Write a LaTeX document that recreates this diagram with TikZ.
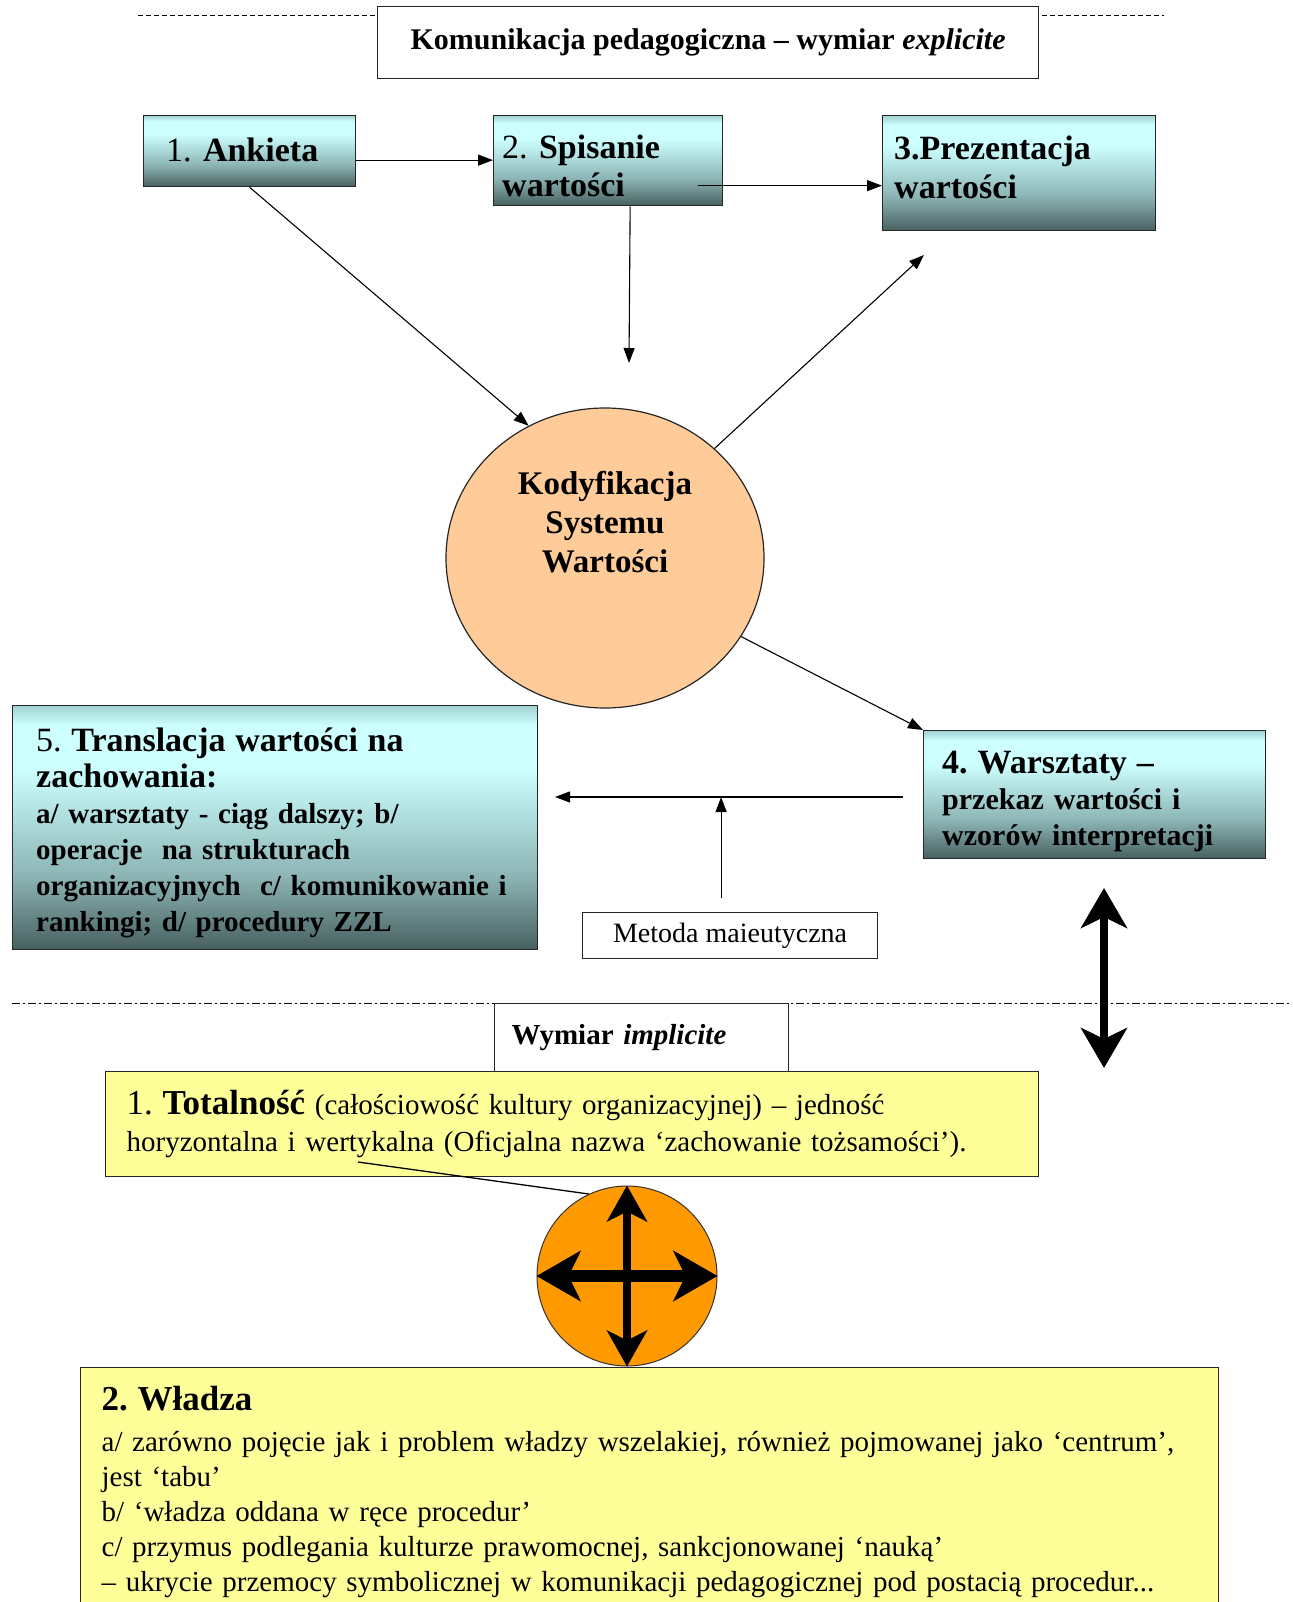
\documentclass[tikz,border=0pt]{standalone}
\usepackage{fontspec}
\setmainfont{Liberation Serif}
\frenchspacing
\usetikzlibrary{arrows.meta,shapes.geometric,calc}
\definecolor{tdark}{RGB}{72,96,96}
\definecolor{tmid}{RGB}{140,180,180}
\definecolor{tlight}{RGB}{205,255,255}
\definecolor{ttop}{RGB}{160,210,210}
\definecolor{peach}{RGB}{255,204,153}
\definecolor{orng}{RGB}{255,153,0}
\definecolor{ylw}{RGB}{255,255,153}
\pgfdeclareverticalshading{tealsh}{100bp}{color(0bp)=(tdark); color(25bp)=(tdark); color(40bp)=(tmid); color(62bp)=(tlight); color(71bp)=(tlight); color(75bp)=(ttop); color(100bp)=(ttop)}
\tikzset{
  tealbox/.style={draw=black!85, line width=1.3pt, shading=tealsh, anchor=north west, align=left, inner ysep=0pt},
  plainbox/.style={draw=black!85, line width=1.2pt, fill=white, anchor=north west},
  ylwbox/.style={draw=black!85, line width=1.3pt, fill=ylw, anchor=north west, align=left, inner ysep=0pt},
  txt/.style={anchor=west, align=left, inner sep=0pt},
  arr/.style={line width=1.1pt, -{Triangle[length=15pt,width=11pt]}},
  bigtip/.tip={Stealth[length=40pt,width=46pt,inset=11pt]},
  vtip/.tip={Stealth[length=36pt,width=40pt,inset=10pt]},
  htip/.tip={Stealth[length=44pt,width=50pt,inset=12pt]},
}
\begin{document}
\begin{tikzpicture}[x=1pt,y=-1pt]
\useasboundingbox[fill=white] (0,0) rectangle (1292,1602);

% separator lines
\draw[line width=1pt, dash pattern=on 5pt off 3pt] (138,16) -- (1164,16);
\draw[line width=1pt, dash pattern=on 8pt off 3pt on 2pt off 3pt] (12,1003) -- (1292,1003);

% title
\node[plainbox, minimum width=661pt, minimum height=72pt, font=\fontsize{30}{34}\selectfont\bfseries] (title) at (377,6) {Komunikacja pedagogiczna -- wymiar \textit{explicite}};

% top boxes
\node[tealbox, minimum width=212pt, minimum height=71pt] (a1) at (143,115) {};
\node[txt, text width=180pt, font=\fontsize{34}{38}\selectfont] (a1t) at (166,150) {1. \textbf{Ankieta}};
\node[tealbox, minimum width=229pt, minimum height=90pt] (a2) at (493,115) {};
\node[txt, text width=213pt, font=\fontsize{34}{38}\selectfont] (a2t) at (502,166) {2. \textbf{Spisanie}\\\textbf{wartości}};
\node[tealbox, minimum width=273pt, minimum height=115pt] (a3) at (882,115) {};
\node[txt, text width=257pt, font=\fontsize{34}{39}\selectfont\bfseries] (a3t) at (894,167) {3.Prezentacja\\wartości};

% central ellipse
\node[ellipse, draw=black!85, line width=1.2pt, fill=peach, minimum width=318pt, minimum height=300pt] (circ) at (605,558) {};
\node[font=\fontsize{33}{39}\selectfont\bfseries, align=center] (circtxt) at (605,522) {Kodyfikacja\\Systemu\\Wartości};

% box 4 and 5
\node[tealbox, minimum width=342pt, minimum height=128pt] (b4) at (923,730) {};
\node[txt, text width=304pt, font=\fontsize{30}{36}\selectfont\bfseries] (b4t) at (942,801) {{\fontsize{34}{36}\selectfont 4. Warsztaty --}\\przekaz wartości i\\wzorów interpretacji};
\node[tealbox, minimum width=525pt, minimum height=244pt] (b5) at (12,705) {};
\node[txt, text width=485pt, font=\fontsize{29}{36}\selectfont\bfseries] (b5t) at (36,833) {{\fontsize{34}{36}\selectfont\mdseries 5. \bfseries Translacja wartości na}\\{\fontsize{34}{36}\selectfont zachowania:}\\a/ warsztaty - ciąg dalszy; b/\\operacje\ \ na strukturach\\organizacyjnych\ \ c/ komunikowanie i\\rankingi; d/ procedury ZZL};

% Metoda box
\node[plainbox, minimum width=295pt, minimum height=46pt, font=\fontsize{28}{30}\selectfont] (met) at (582,912) {Metoda maieutyczna};

% connectors top
\coordinate (c2) at (629,363);
\coordinate (t3) at (924,255);
\coordinate (h1) at (903,797);
\coordinate (h2) at (555,797);
\draw[arr] ([yshift=-9pt]a1.east) -- ([yshift=-9pt]a1.east -| a2.west);
\draw[arr] ([xshift=-25pt,yshift=-25pt]a2.east) -- ([yshift=-25pt]a2.east -| a3.west);
\draw[arr] ([xshift=22pt]a2.south) -- (c2);
\draw[arr] (a1.south) -- (circ.120);
\draw[arr] (circ.45) -- (t3);
\draw[arr] (circ.-30) -- (b4.north west);
\draw[arr] (h1) -- (h2);
\draw[arr] ([xshift=-9pt,yshift=14pt]met.north) -- ([xshift=-9pt]met.north |- h1);

% implicit part
\node[plainbox, minimum width=294pt, minimum height=68pt, inner xsep=17pt, font=\fontsize{29}{34}\selectfont\bfseries, text width=260pt, align=left] (wym) at (494,1003) {Wymiar \textit{implicite}};
\node[ylwbox, inner xsep=21pt, text width=891pt, minimum height=105pt, font=\fontsize{29}{37}\selectfont] (tot) at (105,1071) {{\fontsize{35}{37}\selectfont 1. \textbf{Totalność}} (całościowość kultury organizacyjnej) -- jedność\\horyzontalna i wertykalna (Oficjalna nazwa ‘zachowanie tożsamości’).};
\node[ylwbox, inner xsep=21pt, text width=1096pt, minimum height=248pt, font=\fontsize{29}{35}\selectfont] (wl) at (80,1367) {{\fontsize{35}{35}\selectfont\bfseries 2. Władza}\\[6pt]a/ zarówno pojęcie jak i problem władzy wszelakiej, również pojmowanej jako ‘centrum’,\\jest ‘tabu’\\b/ ‘władza oddana w ręce procedur’\\c/ przymus podlegania kulturze prawomocnej, sankcjonowanej ‘nauką’\\-- ukrycie przemocy symbolicznej w komunikacji pedagogicznej pod postacią procedur...};

% orange orb with four-way arrows
\node[circle, draw=black!80, line width=1pt, fill=orng, minimum size=180pt, inner sep=0pt] (orb) at (627,1276) {};
\draw[line width=8pt, {vtip}-{vtip}] (orb.north) -- (orb.south);
\draw[line width=12pt, {htip}-{htip}] (orb.west) -- (orb.east);
\coordinate (tl) at (358,1162);
\draw[line width=1.3pt] (tl) -- (orb.115);

% big double arrow
\coordinate (ba1) at (1104,888);
\coordinate (ba2) at (1104,1068);
\draw[line width=8pt, {bigtip}-{bigtip}] (ba1) -- (ba2);
\end{tikzpicture}
\end{document}
